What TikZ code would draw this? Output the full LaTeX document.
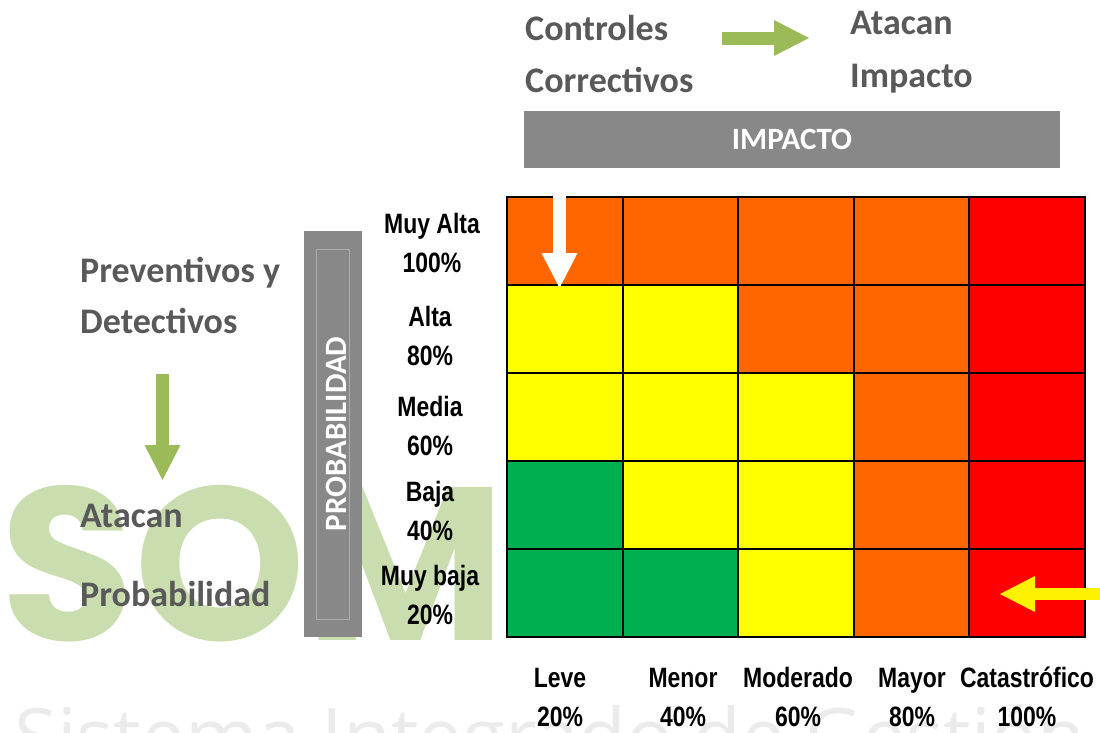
\documentclass[tikz,border=0pt]{standalone}
\usepackage{fontspec}
\usetikzlibrary{arrows.meta}
\setmainfont{Carlito}
\newfontfamily\narrowfont[FakeStretch=0.82]{Liberation Sans}
\newfontfamily\markfont{Open Sans}
\newfontfamily\somfont{Poppins}
\definecolor{txtgray}{HTML}{595959}
\definecolor{bargray}{HTML}{888888}
\definecolor{arrgreen}{HTML}{9BBB59}
\definecolor{markgreen}{HTML}{C9DDAF}
\definecolor{markgray}{HTML}{EBEBEB}
\definecolor{cO}{HTML}{FF6600}
\definecolor{cY}{HTML}{FFFF00}
\definecolor{cG}{HTML}{00B050}
\definecolor{cR}{HTML}{FF0000}
\begin{document}
\begin{tikzpicture}[x=1pt,y=-1pt,
	cell/.style={draw=black,line width=2pt,minimum width=115.6pt,minimum height=88pt,inner sep=0pt,outer sep=0pt},
	ctrl/.style={anchor=base west,inner sep=0pt,text=txtgray,font=\bfseries\fontsize{36}{36}\selectfont},
	lvl/.style={align=center,inner sep=0pt,font=\narrowfont\bfseries\fontsize{28}{39}\selectfont},
	bar/.style={fill=bargray,inner sep=0pt,text=white,font=\bfseries\fontsize{31}{31}\selectfont},
	blockarrow/.style={line width=13pt,-{Triangle[length=35pt,width=36pt,line width=0pt]}}]
	\useasboundingbox (0,0) rectangle (1100,732);
	\begin{scope}
		\clip (0,0) rectangle (1100,732);
		\node[anchor=base west,inner sep=0pt,text=markgreen,font=\somfont\bfseries\fontsize{218}{218}\selectfont] (som) at (0,640) {SOM};
		\node[anchor=base west,inner sep=0pt,text=markgray,font=\markfont\fontsize{78}{78}\selectfont] (sig) at (14,764) {Sistema Integrado de Gestión};
	\end{scope}
	\node[bar,minimum width=536pt,minimum height=57pt] (impacto) at (792,139.5) {IMPACTO};
	\node[bar,minimum width=58pt,minimum height=406pt] (probbar) at (333,434) {};
	\draw[color=bargray!70!white,line width=0.8pt] (316.5,249) rectangle (349.5,619);
	\node[rotate=90,inner sep=0pt,text=white,font=\bfseries\fontsize{31}{31}\selectfont] (probtxt) at (336,434) {PROBABILIDAD};
	\foreach \cols [count=\r] in {{cO,cO,cO,cO,cR},{cY,cY,cO,cO,cR},{cY,cY,cY,cO,cR},{cG,cY,cY,cO,cR},{cG,cG,cY,cO,cR}}
		\foreach \c [count=\k] in \cols
			\node[cell,fill=\c] (c\r\k) at ({507+115.6*(\k-0.5)},{197+88*(\r-0.5)}) {};
	\node[lvl] (r1) at (432,243) {Muy Alta\\100\%};
	\node[lvl] (r2) at (430,336) {Alta\\80\%};
	\node[lvl] (r3) at (430,426) {Media\\60\%};
	\node[lvl] (r4) at (430,511) {Baja\\40\%};
	\node[lvl] (r5) at (430,595) {Muy baja\\20\%};
	\node[lvl] (k1) at (560,697) {Leve\\20\%};
	\node[lvl] (k2) at (683,697) {Menor\\40\%};
	\node[lvl] (k3) at (798,697) {Moderado\\60\%};
	\node[lvl] (k4) at (912,697) {Mayor\\80\%};
	\node[lvl] (k5) at (1027,697) {Catastrófico\\100\%};
	\node[ctrl] (ctrl1) at (525,40) {Controles};
	\node[ctrl] (ctrl2) at (525,92) {Correctivos};
	\node[ctrl] (imp1) at (850,34) {Atacan};
	\node[ctrl] (imp2) at (850,87) {Impacto};
	\node[ctrl] (prev1) at (80,282) {Preventivos y};
	\node[ctrl] (prev2) at (80,333) {Detectivos};
	\node[ctrl] (prob1) at (80,527) {Atacan};
	\node[ctrl] (prob2) at (80,606) {Probabilidad};
	\coordinate (hs) at (722,38);
	\coordinate (he) at (809,38);
	\coordinate (vs) at (162.5,374);
	\coordinate (ve) at (162.5,480);
	\coordinate (ws) at (559.5,195);
	\coordinate (we) at (559.5,288);
	\coordinate (ys) at (1102,594);
	\coordinate (ye) at (1000,594);
	\draw[blockarrow,arrgreen] (hs) -- (he);
	\draw[blockarrow,arrgreen] (vs) -- (ve);
	\draw[blockarrow,white] (ws) -- (we);
	\draw[blockarrow,yellow,line width=12pt] (ys) -- (ye);
\end{tikzpicture}
\end{document}
